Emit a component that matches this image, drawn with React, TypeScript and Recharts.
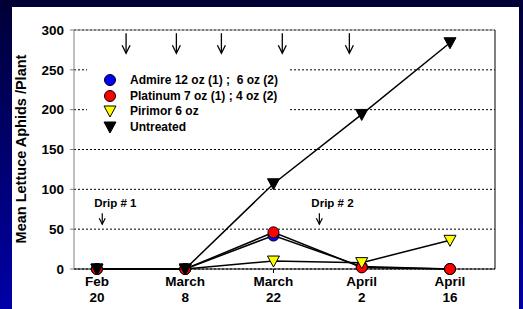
import React from "react";
import {
  ComposedChart,
  Line,
  XAxis,
  YAxis,
  CartesianGrid,
  ReferenceLine,
  ReferenceDot,
  Legend,
  Label,
} from "recharts";

// sampling dates (equally spaced on the chart)
const dates = [
  ["Feb", "20"],
  ["March", "8"],
  ["March", "22"],
  ["April", "2"],
  ["April", "16"],
];

const admire = [0, 0, 42, 3, 0];
const platinum = [0, 0, 46, 2, 0];
const pirimor = [0, 0, 10, 8, 36];
const untreated = [0, 0, 107, 194, 284];

const yTicks = [0, 50, 100, 150, 200, 250, 300];

// foliar spray timings (arrows along the top), in date-index units
const sprayArrows = [0.33, 0.9, 1.41, 2.1, 2.86];
const dripArrows = [
  { x: 0.06, label: "Drip # 1" },
  { x: 2.52, label: "Drip # 2" },
];

const data = dates.map((d, i) => ({
  idx: i,
  admire: admire[i],
  platinum: platinum[i],
  pirimor: pirimor[i],
  untreated: untreated[i],
}));

const font = "'Liberation Sans', Arial, sans-serif";

const Circle = (fill: string) => (props: any) => {
  const { cx, cy } = props;
  return <circle cx={cx} cy={cy} r={5.5} fill={fill} stroke="#000" strokeWidth={1} />;
};

const Tri = (fill: string) => (props: any) => {
  const { cx, cy } = props;
  return (
    <path
      d={`M${cx - 6},${cy - 5} L${cx + 6},${cy - 5} L${cx},${cy + 6} Z`}
      fill={fill}
      stroke="#000"
      strokeWidth={1}
    />
  );
};

const series = [
  { key: "admire", name: "Admire 12 oz (1) ;  6 oz (2)", dot: Circle("#0000ff"), fill: "#0000ff", kind: "c" },
  { key: "platinum", name: "Platinum 7 oz (1) ; 4 oz (2)", dot: Circle("#ff0000"), fill: "#ff0000", kind: "c" },
  { key: "pirimor", name: "Pirimor 6 oz", dot: Tri("#ffff00"), fill: "#ffff00", kind: "t" },
  { key: "untreated", name: "Untreated", dot: Tri("#000000"), fill: "#000000", kind: "t" },
];

const XTick = (props: any) => {
  const { x, y, payload } = props;
  const d = dates[payload.value];
  if (!d) return null;
  return (
    <text x={x} y={y} textAnchor="middle" fontFamily={font} fontWeight="bold" fontSize={13.5} fill="#000">
      <tspan x={x} dy={11}>{d[0]}</tspan>
      <tspan x={x} dy={16}>{d[1]}</tspan>
    </text>
  );
};

const SprayArrow = (props: any) => {
  const { cx, cy } = props;
  return (
    <g stroke="#000" strokeWidth={1.3} fill="none">
      <line x1={cx} y1={cy} x2={cx} y2={cy + 20} />
      <polyline points={`${cx - 4},${cy + 12} ${cx},${cy + 20} ${cx + 4},${cy + 12}`} />
    </g>
  );
};

const DripArrow = (label: string) => (props: any) => {
  const { cx, cy } = props;
  return (
    <g>
      <text x={cx - 8} y={cy - 6} fontFamily={font} fontWeight="bold" fontSize={11.5} fill="#000">
        {label}
      </text>
      <g stroke="#000" strokeWidth={1.2} fill="none">
        <line x1={cx} y1={cy} x2={cx} y2={cy + 11} />
        <polyline points={`${cx - 3},${cy + 5} ${cx},${cy + 11} ${cx + 3},${cy + 5}`} />
      </g>
    </g>
  );
};

const LegendBox = () => (
  <div style={{ background: "#fff", width: 202, padding: "9px 0 6px", fontFamily: font, fontWeight: "bold", fontSize: 12 }}>
    {series.map((s) => (
      <div key={s.key} style={{ display: "flex", alignItems: "center", height: 15.7 }}>
        <svg width={14} height={14} style={{ marginLeft: 16, flexShrink: 0 }}>
          {s.kind === "c" ? (
            <circle cx={7} cy={7} r={5.5} fill={s.fill} stroke="#000" />
          ) : (
            <path d="M1,2 L13,2 L7,13 Z" fill={s.fill} stroke="#000" />
          )}
        </svg>
        <span style={{ marginLeft: 13, whiteSpace: "pre" }}>{s.name}</span>
      </div>
    ))}
  </div>
);

export default function App() {
  return (
    <div
      style={{
        position: "absolute",
        left: 0,
        top: 0,
        width: 523,
        height: 309,
        background: "linear-gradient(to bottom, #000035, #0000a8)",
        overflow: "hidden",
      }}
    >
      <div style={{ position: "absolute", left: 12, top: 7, width: 507, height: 302, background: "#fff" }} />
      <div style={{ position: "absolute", left: 0, top: 0 }}>
        <ComposedChart width={523} height={309} data={data} margin={{ top: 30, right: 28, bottom: 10, left: 0 }}>
          <CartesianGrid horizontal vertical={false} stroke="#000" strokeDasharray="2 2" />
          <XAxis
            dataKey="idx"
            type="number"
            domain={[-0.26, 4.51]}
            ticks={[0, 1, 2, 3, 4]}
            tick={<XTick />}
            tickSize={4}
            height={30}
            stroke="#000"
            allowDataOverflow
          />
          <YAxis
            width={74}
            domain={[0, 300]}
            ticks={yTicks}
            tickSize={4}
            tickMargin={6}
            stroke="#808080"
            tick={{ fill: "#000", fontFamily: font, fontWeight: "bold", fontSize: 13.5 }}
          >
            <Label
              content={() => (
                <text
                  x={26}
                  y={149}
                  transform="rotate(-90 26 149)"
                  textAnchor="middle"
                  fontFamily={font}
                  fontWeight="bold"
                  fontSize={14.5}
                  fill="#000"
                >
                  Mean Lettuce Aphids /Plant
                </text>
              )}
            />
          </YAxis>
          <ReferenceLine y={300} stroke="#808080" />
          <ReferenceLine x={4.51} stroke="#000" />
          <Legend
            layout="vertical"
            align="center"
            verticalAlign="middle"
            content={<LegendBox />}
            wrapperStyle={{ position: "absolute", left: 87, top: 63, width: 202 }}
          />
          {series.map((s) => (
            <Line
              key={s.key}
              dataKey={s.key}
              name={s.name}
              stroke="#000"
              strokeWidth={1.5}
              dot={s.dot}
              activeDot={false}
              isAnimationActive={false}
            />
          ))}
          {sprayArrows.map((x, i) => (
            <ReferenceDot key={"s" + i} x={x} y={296} shape={SprayArrow} ifOverflow="visible" />
          ))}
          {dripArrows.map((d, i) => (
            <ReferenceDot key={"d" + i} x={d.x} y={70} shape={DripArrow(d.label)} ifOverflow="visible" />
          ))}
        </ComposedChart>
      </div>
    </div>
  );
}
